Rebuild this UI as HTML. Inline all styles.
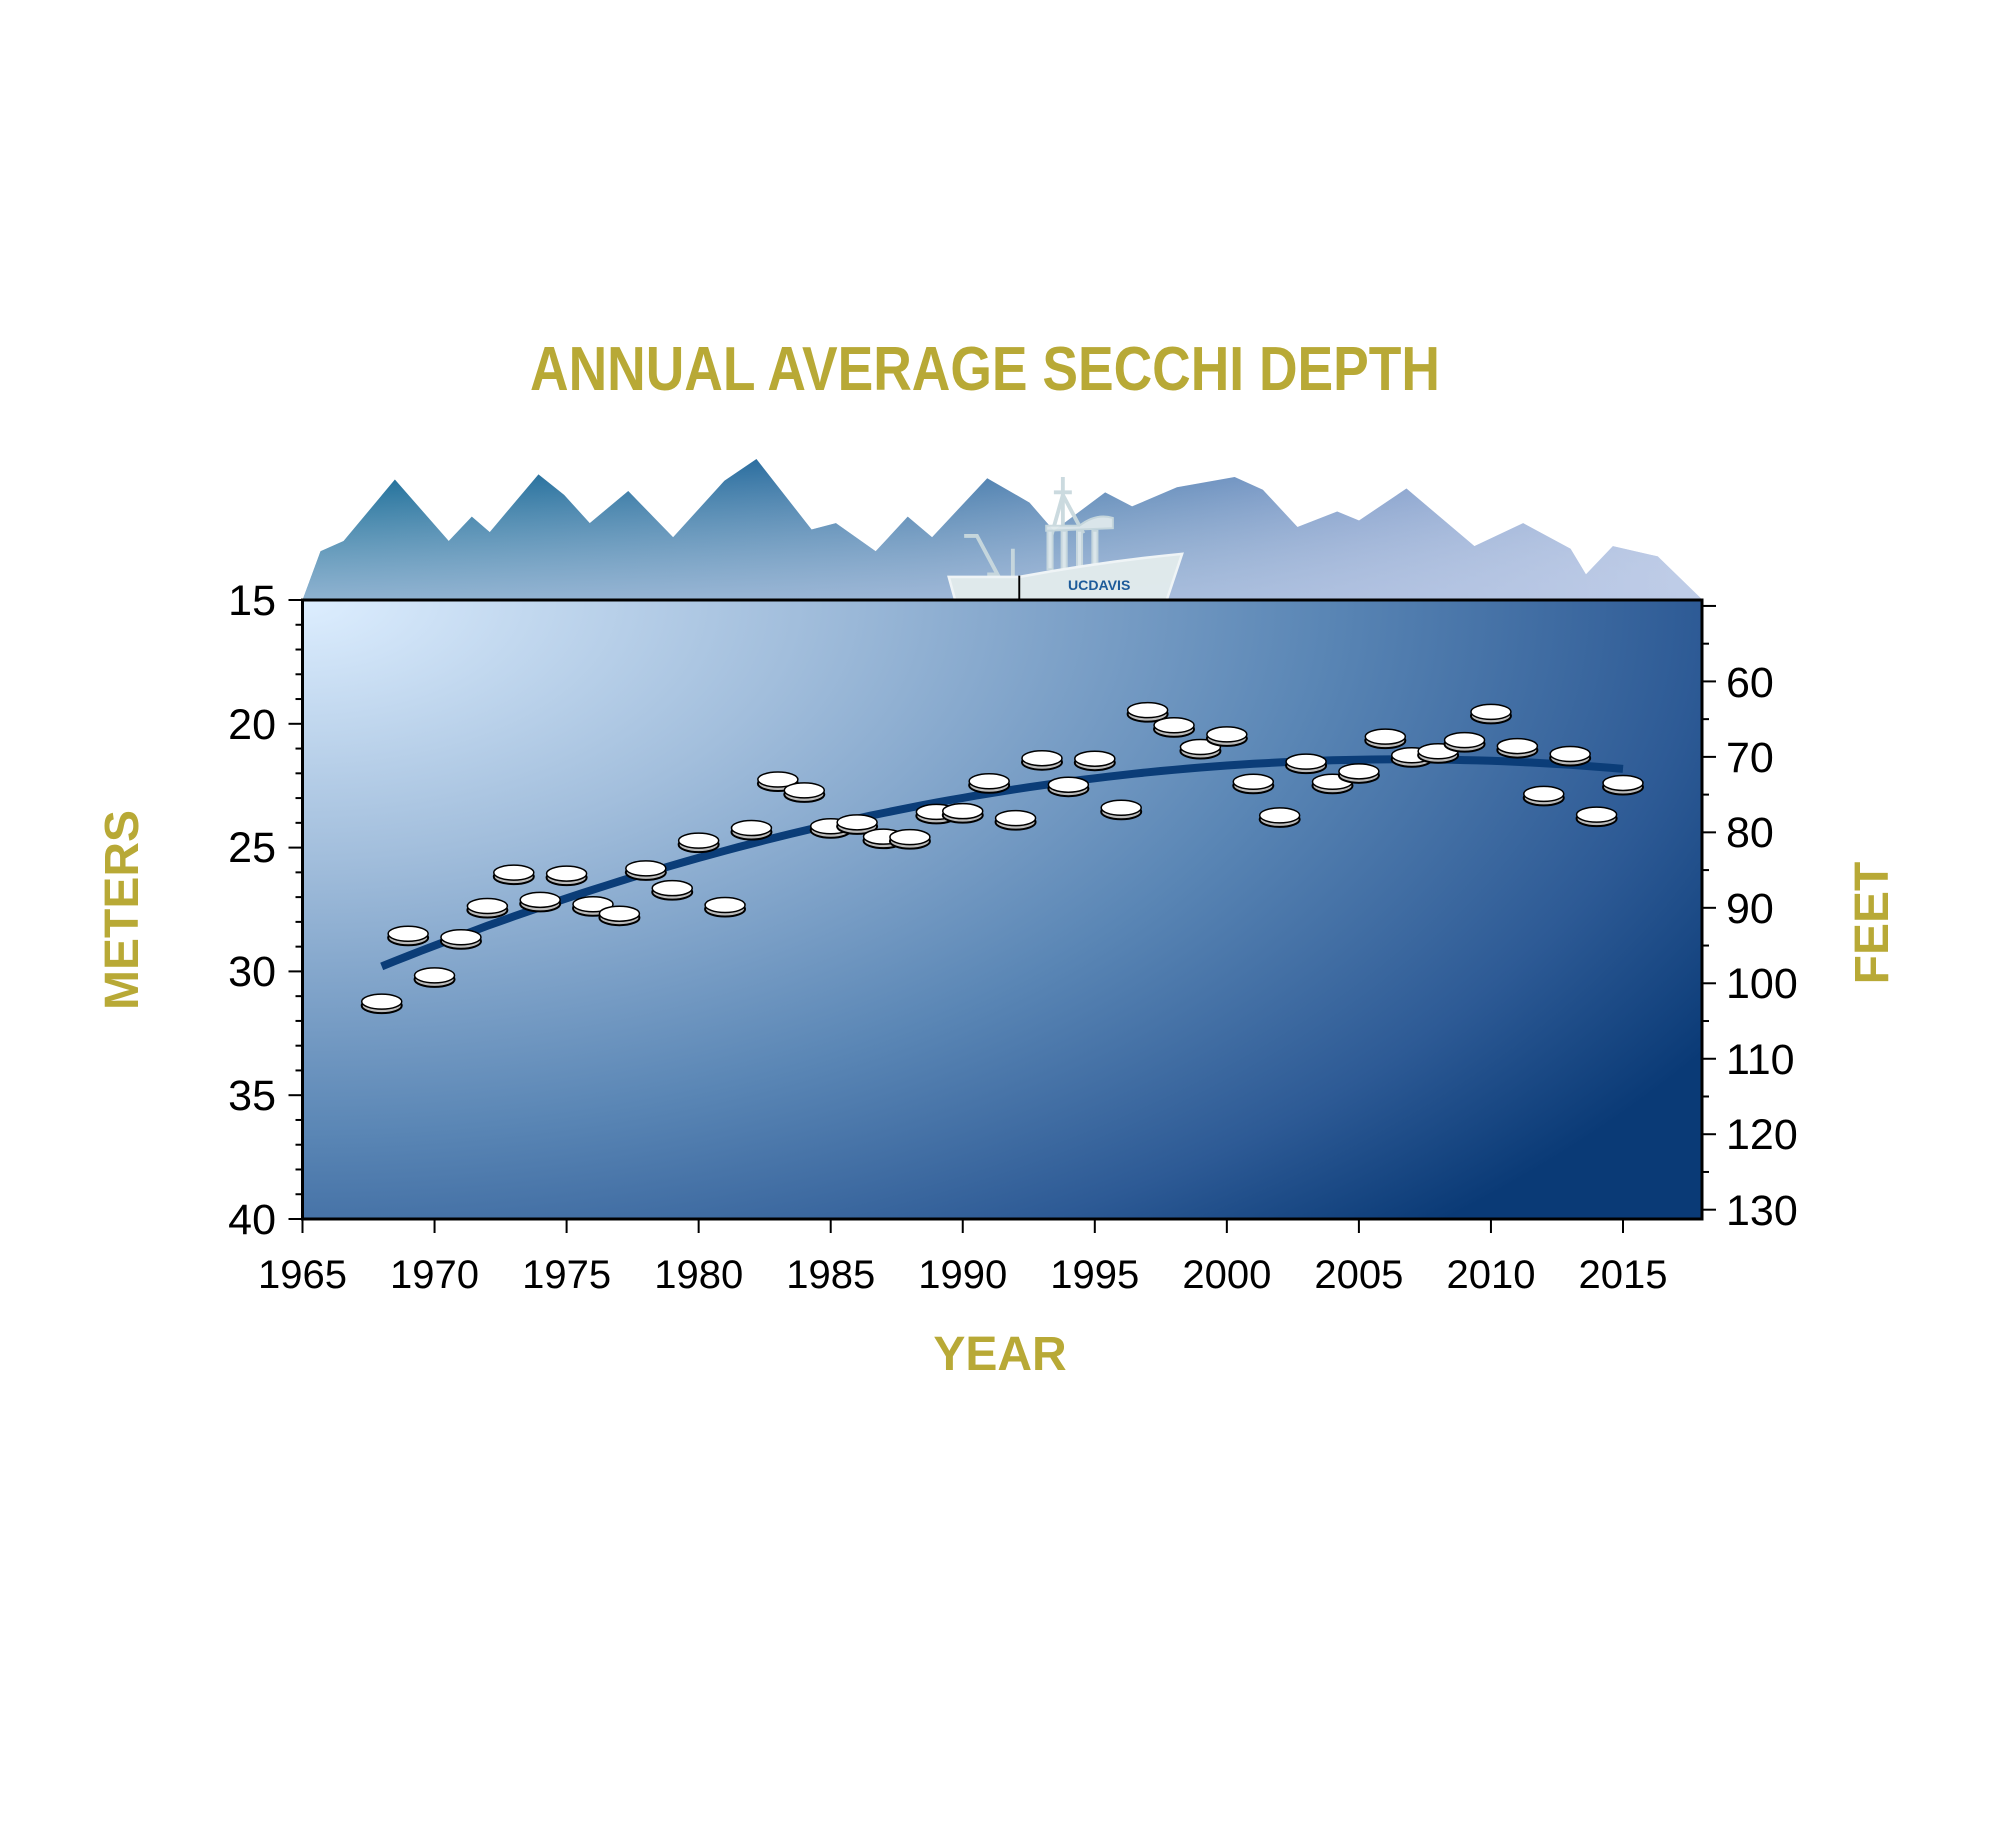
<!DOCTYPE html>
<html><head><meta charset="utf-8"><style>
html,body{margin:0;padding:0;background:#fff;}
svg{display:block;}
text{font-family:"Liberation Sans",sans-serif;}
</style></head><body>
<svg id="s" width="2000" height="1824" viewBox="0 0 2000 1824" xmlns="http://www.w3.org/2000/svg">
<defs>
<radialGradient id="bg" cx="0" cy="0" r="1" gradientUnits="userSpaceOnUse" gradientTransform="translate(302,600) scale(1650,860)">
<stop offset="0" stop-color="#ddeeff"/>
<stop offset="0.3" stop-color="#a2bedc"/>
<stop offset="0.62" stop-color="#5a86b5"/>
<stop offset="0.85" stop-color="#2d5a95"/>
<stop offset="1" stop-color="#0a3a76"/>
</radialGradient>
<linearGradient id="mh" x1="0" y1="0" x2="1" y2="0">
<stop offset="0" stop-color="#06618f"/>
<stop offset="0.45" stop-color="#3a73a6"/>
<stop offset="0.75" stop-color="#7896c6"/>
<stop offset="1" stop-color="#a7b9dd"/>
</linearGradient>
<linearGradient id="mv" x1="0" y1="0" x2="0" y2="1">
<stop offset="0" stop-color="#ffffff" stop-opacity="0"/>
<stop offset="1" stop-color="#c8d4ec" stop-opacity="0.7"/>
</linearGradient>
</defs>
<text x="985" y="390" text-anchor="middle" font-size="62" font-weight="bold" fill="#b8a936" textLength="910" lengthAdjust="spacingAndGlyphs">ANNUAL AVERAGE SECCHI DEPTH</text>
<g transform="scale(1.2821)">
<polygon fill="url(#mh)" points="236,468 250,430 268,422 308,374 350,422 368,403 382,415 420,370 440,386 460,408 490,383 525,419 565,375 590,358 633,413 652,408 683,430 708,403 727,419 770,373 803,392 822,414 862,384 883,395 918,380 963,372 985,382 1012,411 1043,399 1060,406 1097,381 1150,426 1188,408 1225,428 1237,448 1258,426 1293,434 1328,468"/>
<polygon fill="url(#mv)" points="236,468 250,430 268,422 308,374 350,422 368,403 382,415 420,370 440,386 460,408 490,383 525,419 565,375 590,358 633,413 652,408 683,430 708,403 727,419 770,373 803,392 822,414 862,384 883,395 918,380 963,372 985,382 1012,411 1043,399 1060,406 1097,381 1150,426 1188,408 1225,428 1237,448 1258,426 1293,434 1328,468"/>
<g fill="#dfe9ec" stroke="#c9d9de" stroke-width="1.5" opacity="0.95">
<line x1="829" y1="372" x2="829" y2="420" stroke-width="3"/>
<line x1="822" y1="384" x2="836" y2="384" stroke-width="3"/>
<polyline points="820,418 829,386 845,416" fill="none" stroke-width="3"/>
<path d="M816,410 L842,410 Q855,400 868,404 L868,412 L816,414 Z"/>
<rect x="817" y="414" width="4" height="30"/><rect x="828" y="414" width="4" height="30"/><rect x="840" y="414" width="4" height="30"/><rect x="852" y="414" width="4" height="30"/>
<polyline points="752,418 762,418 778,448 770,448" fill="none" stroke-width="3"/>
<line x1="790" y1="428" x2="790" y2="450" stroke-width="3"/>
<path d="M740,450 L795,450 Q860,438 922,432 L910,468 L745,468 Z" fill="#e3eced" stroke="#f4f8f8" stroke-width="2"/>
</g>
<line x1="795" y1="449" x2="795" y2="468" stroke="#000" stroke-width="1.5"/>
<text x="833" y="460" font-size="11" fill="#1d5b9a" font-weight="bold">UC<tspan>DAVIS</tspan></text>
</g>
<rect x="302.5" y="600" width="1399.5" height="619" fill="url(#bg)" stroke="#000" stroke-width="3"/>
<g id="ticks" stroke="#000" stroke-width="2"></g>
<path id="trend" fill="none" stroke="#0b3d78" stroke-width="8"/>
<g id="discs"></g>
<g font-size="43" fill="#000" text-anchor="end">
<text x="276" y="615">15</text><text x="276" y="739">20</text><text x="276" y="862">25</text>
<text x="276" y="986">30</text><text x="276" y="1110">35</text><text x="276" y="1234">40</text>
</g>
<g font-size="43" fill="#000" text-anchor="start">
<text x="1726" y="697">60</text><text x="1726" y="772">70</text><text x="1726" y="847">80</text>
<text x="1726" y="923">90</text><text x="1726" y="998">100</text><text x="1726" y="1074">110</text>
<text x="1726" y="1149">120</text><text x="1726" y="1225">130</text>
</g>
<g font-size="40" fill="#000" text-anchor="middle">
<text x="302.5" y="1288">1965</text><text x="434.5" y="1288">1970</text><text x="566.6" y="1288">1975</text>
<text x="698.7" y="1288">1980</text><text x="830.7" y="1288">1985</text><text x="962.8" y="1288">1990</text>
<text x="1094.8" y="1288">1995</text><text x="1226.9" y="1288">2000</text><text x="1358.9" y="1288">2005</text>
<text x="1491" y="1288">2010</text><text x="1623" y="1288">2015</text>
</g>
<text x="1000" y="1370" text-anchor="middle" font-size="48" font-weight="bold" fill="#b8a936">YEAR</text>
<text transform="translate(138,910) rotate(-90)" text-anchor="middle" font-size="48" font-weight="bold" fill="#b8a936">METERS</text>
<text transform="translate(1888,923) rotate(-90)" text-anchor="middle" font-size="48" font-weight="bold" fill="#b8a936">FEET</text>
</svg>
<script>
var X=function(y){return 302.5+(y-1965)*26.41;},Y=function(m){return 600+(m-15)*24.76;};
var t=document.getElementById("ticks"),h="";
for(var m=15;m<=40;m++){var L=(m%5==0)?14:7;h+='<line x1="'+(302.5-L)+'" x2="302.5" y1="'+Y(m)+'" y2="'+Y(m)+'"/>';}
for(var f=50;f<=130;f+=5){var yy=Y(f*0.3048);if(yy<600)continue;var L=(f%10==0)?14:7;h+='<line x1="1702" x2="'+(1702+L)+'" y1="'+yy+'" y2="'+yy+'"/>';}
for(var y=1965;y<=2015;y+=5){h+='<line x1="'+X(y)+'" x2="'+X(y)+'" y1="1219" y2="1233"/>';}
t.innerHTML=h;
function tr(yr){var u=(yr-1968)/47;return 29.8-20.32*u+12.34*u*u;}
var d="";
for(var yr=1968;yr<=2015.01;yr+=0.5){d+=(d?" L":"M")+X(yr).toFixed(1)+","+Y(tr(yr)).toFixed(1);}
document.getElementById("trend").setAttribute("d",d);
var data=[31.3,28.56,30.24,28.7,27.44,26.09,27.19,26.13,27.37,27.75,25.92,26.72,24.8,27.4,24.29,22.33,22.77,24.22,24.06,24.64,24.66,23.64,23.61,22.4,23.89,21.47,22.54,21.49,23.47,19.53,20.14,21.02,20.51,22.42,23.78,21.61,22.42,22.0,20.6,21.35,21.19,20.74,19.6,20.98,22.91,21.3,23.75,22.47];
var g="";
for(var i=0;i<data.length;i++){var cx=X(1968+i),cy=Y(data[i])-2;
g+='<ellipse cx="'+cx+'" cy="'+(cy+4)+'" rx="20" ry="7.5" fill="#bbb" stroke="#000" stroke-width="2"/>';
g+='<ellipse cx="'+cx+'" cy="'+cy+'" rx="20" ry="7.5" fill="#fff" stroke="#000" stroke-width="1.5"/>';}
document.getElementById("discs").innerHTML=g;
</script>
</body></html>
